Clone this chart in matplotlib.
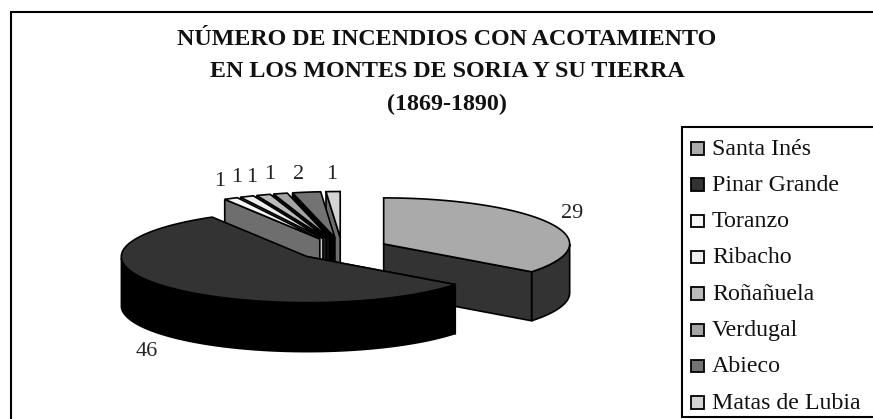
import numpy as np
import matplotlib
matplotlib.use('Agg')
import matplotlib.pyplot as plt
from matplotlib.patches import Polygon, Rectangle

plt.rcParams['font.family'] = ['Liberation Serif']

W, H = 873, 419

title_lines = ['NÚMERO DE INCENDIOS CON ACOTAMIENTO',
               'EN LOS MONTES DE SORIA Y SU TIERRA',
               '(1869-1890)']
names = ['Santa Inés', 'Pinar Grande', 'Toranzo', 'Ribacho',
         'Roñañuela', 'Verdugal', 'Abieco', 'Matas de Lubia']
values = [29, 46, 1, 1, 1, 1, 2, 1]
top_col = ['#aaaaaa', '#333333', '#f6f6f6', '#eeeeee',
           '#bbbbbb', '#a4a4a4', '#737373', '#d4d4d4']
side_col = ['#333333', '#000000', '#6e6e6e', '#c8c8c8',
            '#222222', '#111111', '#000000', '#6e6e6e']
label_xy = [(572, 213), (147, 351), (220, 181), (237, 177),
            (252, 177), (270, 174), (299, 174), (332, 174)]

# geometria de la tarta 3D (en pixeles)
cx, cy = 342, 249
rx, ry = 186, 46
depth = 49
explode = 0.25

fig = plt.figure(figsize=(W / 100, H / 100), dpi=100)
ax = fig.add_axes([0, 0, 1, 1])
ax.set_xlim(0, W)
ax.set_ylim(H, 0)
ax.axis('off')


def wedge(i, t1, t2):
    mid = (t1 + t2) / 2
    ox = cx + explode * rx * np.sin(mid)
    oy = cy - explode * ry * np.cos(mid)
    t = np.linspace(t1, t2, 80)
    x = ox + rx * np.sin(t)
    y = oy - ry * np.cos(t)
    lw = 1.2
    # pared exterior solo donde mira al frente
    s = (t > np.pi / 2) & (t < 3 * np.pi / 2)
    if s.any():
        wx, wy = x[s], y[s]
        ax.add_patch(Polygon(np.r_[np.c_[wx, wy], np.c_[wx[::-1], wy[::-1] + depth]],
                             fc=side_col[i], ec='black', lw=lw, zorder=zo[i]))
    # cara del corte: la derecha en Santa Ines, la izquierda en las demas
    k = -1 if i == 0 else 0
    ax.add_patch(Polygon([(ox, oy), (x[k], y[k]), (x[k], y[k] + depth), (ox, oy + depth)],
                         fc=side_col[i], ec='black', lw=lw, zorder=zo[i]))
    ax.add_patch(Polygon(np.r_[[(ox, oy)], np.c_[x, y]], fc=top_col[i], ec='black',
                         lw=lw, zorder=zo[i] + 0.5))


# orden de dibujo: de atras hacia delante
zo = [2, 20, 18, 16, 14, 12, 10, 8]
ang = np.r_[0, np.cumsum(values)] / sum(values) * 2 * np.pi
for i in range(len(values)):
    wedge(i, ang[i], ang[i + 1])

for i, v in enumerate(values):
    ax.text(label_xy[i][0], label_xy[i][1], str(v), fontsize=16, ha='center',
            va='center', color='#222222', zorder=30)

# titulo
for line, y in zip(title_lines, [45, 77, 110]):
    ax.text(447, y, line, fontsize=17.3, fontweight='bold', ha='center', va='baseline',
            color='#111111')

# marco (sin lados derecho ni inferior) y leyenda
ax.plot([11, 11, W], [H, 12, 12], color='black', lw=1.5, solid_joinstyle='miter', zorder=1)
ax.plot([W, 682, 682, W], [127, 127, 417, 417], color='black', lw=1.5,
        solid_joinstyle='miter', zorder=26)
for i, n in enumerate(names):
    y = 148 + i * 36.3
    ax.add_patch(Rectangle((691, y - 6), 12.5, 12.5, fc=top_col[i], ec='black', lw=1.3, zorder=26))
    ax.text(712, y + 6.5, n, fontsize=17.2, ha='left', va='baseline', color='#111111', zorder=26)

fig.savefig('out.png', dpi=100)
